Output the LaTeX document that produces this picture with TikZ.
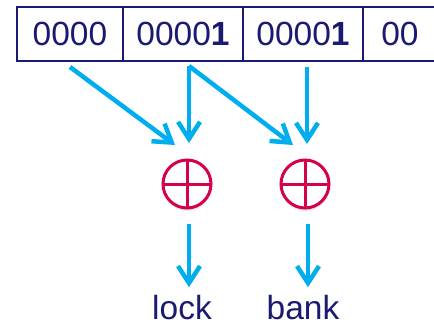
\documentclass[tikz,border=0pt]{standalone}
\usepackage{fontspec}
\setmainfont{Liberation Sans}
\usetikzlibrary{positioning,arrows.meta,shadows}

\definecolor{navy}{RGB}{26,26,112}
\definecolor{sky}{RGB}{0,174,239}
\definecolor{crimson}{RGB}{214,0,78}

\begin{document}
\begin{tikzpicture}[x=1pt,y=-1pt,
    cell/.style={draw=navy, line width=1.6pt, minimum height=54pt, inner sep=0pt, outer sep=0pt,
                 text=navy, font=\fontsize{33.5}{38}\selectfont},
    xorop/.style={circle, draw=crimson, fill=white, line width=3pt, minimum size=48pt,
                  circular drop shadow={shadow xshift=0pt, shadow yshift=-3pt, opacity=0.35, shadow scale=1.02},
                  path picture={\draw[crimson, line width=3pt]
                      (path picture bounding box.north) -- (path picture bounding box.south)
                      (path picture bounding box.west) -- (path picture bounding box.east);}},
    flow/.style={draw=sky, line width=4.5pt, -{Straight Barb[length=17pt,width=22pt]}},
    word/.style={text=navy, font=\fontsize{33.5}{38}\selectfont, anchor=base}]
    \useasboundingbox (0,0) rectangle (434,327);

    % address bits
    \node[cell, minimum width=106pt, anchor=north west] (c1) at (17,7) {0000};
    \node[cell, minimum width=120pt, right=0pt of c1] (c2) {0000\textbf{1}};
    \node[cell, minimum width=120pt, right=0pt of c2] (c3) {0000\textbf{1}};
    \node[cell, minimum width=74pt, right=0pt of c3] (c4) {00};

    % xor gates
    \node[xorop] (x1) at (187,184) {};
    \node[xorop] (x2) at (305,184) {};

    % outputs
    \node[word] (lock) at (182,319) {lock};
    \node[word] (bank) at (303,319) {bank};

    \coordinate (s1) at (70,67);
    \coordinate (s2) at (189,66);
    \coordinate (s3) at (307,67);
    \coordinate (t1) at (175,145);
    \coordinate (t2) at (189,143);
    \coordinate (t3) at (293,145);
    \coordinate (t4) at (307,144);

    \draw[flow] (s1) -- (t1);
    \draw[flow] (s2) -- (t2);
    \draw[flow] (s2) -- (t3);
    \draw[flow] (s3) -- (t4);

    \draw[flow, shorten <=14pt, shorten >=4pt] ([xshift=2pt]x1.south) -- ([xshift=2pt]x1.south |- lock.north);
    \draw[flow, shorten <=14pt, shorten >=4pt] ([xshift=3pt]x2.south) -- ([xshift=3pt]x2.south |- bank.north);
\end{tikzpicture}
\end{document}
